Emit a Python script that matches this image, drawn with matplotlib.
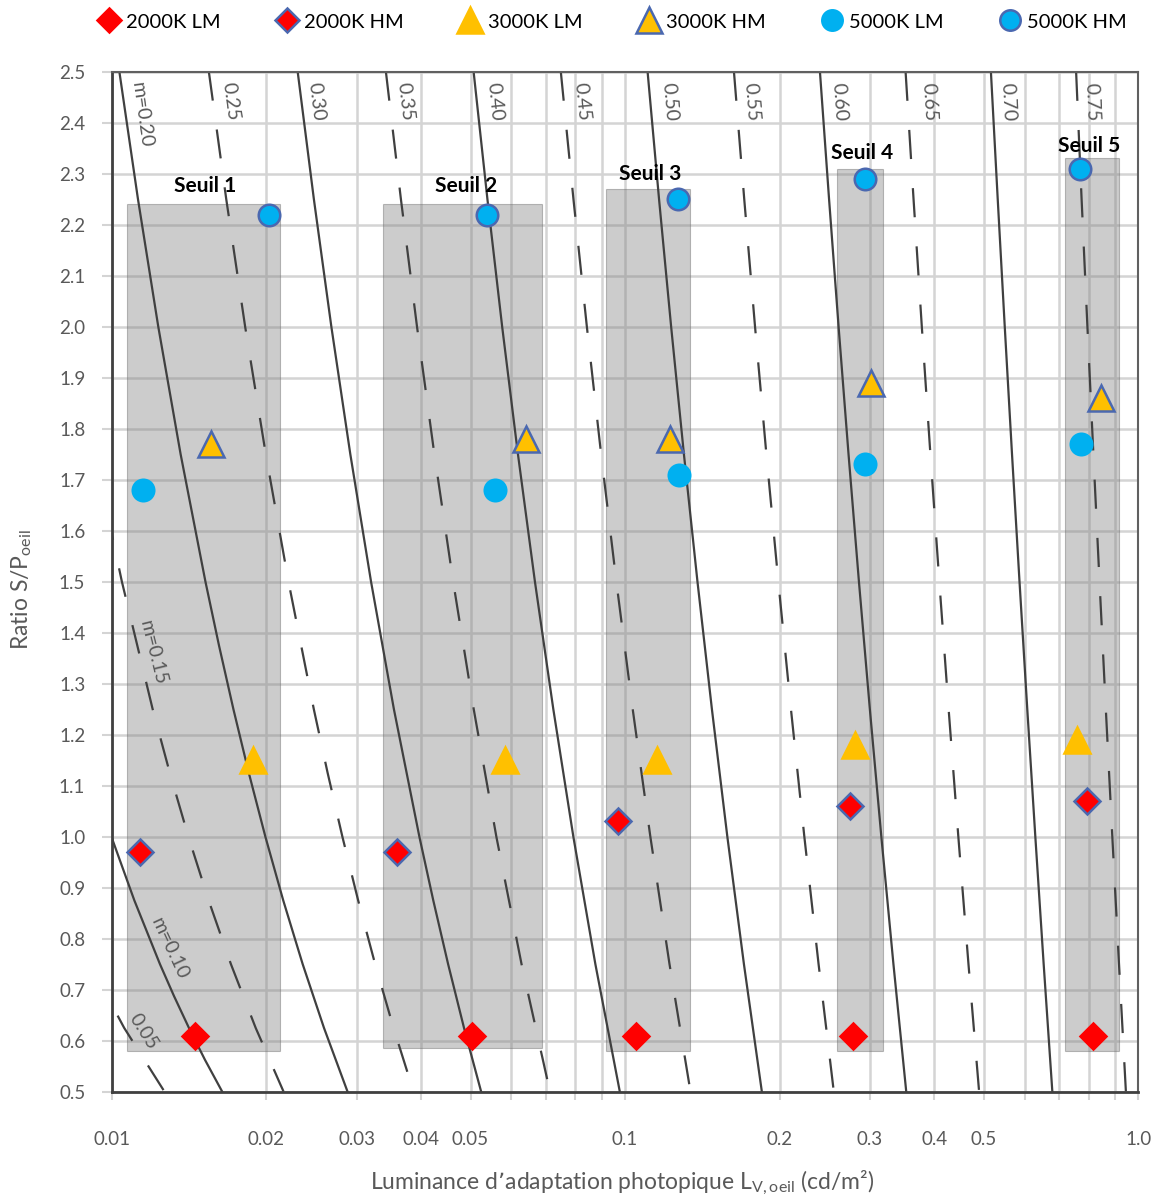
import matplotlib
matplotlib.use("Agg")
import matplotlib.pyplot as plt
from matplotlib.patches import Rectangle
from matplotlib.lines import Line2D
from matplotlib.ticker import FixedLocator, NullFormatter

plt.rcParams["font.family"] = ["Lato", "DejaVu Sans"]
plt.rcParams["mathtext.default"] = "regular"
plt.rcParams["lines.scale_dashes"] = False

# --- thresholds (grey boxes) ---
SEUILS = ["Seuil 1", "Seuil 2", "Seuil 3", "Seuil 4", "Seuil 5"]
BOX_X0 = [0.01072, 0.0338, 0.0917, 0.259, 0.719]
BOX_X1 = [0.02127, 0.0688, 0.1338, 0.318, 0.9175]
BOX_Y0 = [0.58, 0.585, 0.58, 0.58, 0.58]
BOX_Y1 = [2.24, 2.24, 2.27, 2.31, 2.33]
SEUIL_LABEL_X = [0.0152, 0.049, 0.1118, 0.289, 0.802]
SEUIL_LABEL_Y = [2.275, 2.275, 2.30, 2.34, 2.355]

# --- measured points per threshold ---
L2000_LM_X = [0.01453, 0.0504, 0.105, 0.2776, 0.817]
L2000_LM_Y = [0.61, 0.61, 0.61, 0.61, 0.61]
L2000_HM_X = [0.01135, 0.0359, 0.097, 0.274, 0.795]
L2000_HM_Y = [0.97, 0.97, 1.03, 1.06, 1.07]
L3000_LM_X = [0.01883, 0.0583, 0.1152, 0.2804, 0.760]
L3000_LM_Y = [1.15, 1.15, 1.15, 1.18, 1.19]
L3000_HM_X = [0.01559, 0.0641, 0.1223, 0.3009, 0.844]
L3000_HM_Y = [1.77, 1.78, 1.78, 1.89, 1.86]
L5000_LM_X = [0.01152, 0.0558, 0.1275, 0.2933, 0.773]
L5000_LM_Y = [1.68, 1.68, 1.71, 1.73, 1.77]
L5000_HM_X = [0.02028, 0.0539, 0.1266, 0.2933, 0.769]
L5000_HM_Y = [2.22, 2.22, 2.25, 2.29, 2.31]

# --- iso-m curves (x read at S/P levels, top to bottom) ---
SP_LEVELS = [2.5, 2.25, 2.0, 1.75, 1.5, 1.25, 1.0, 0.75, 0.5]
SP_LEVELS_FINE = [2.5, 2.25, 2.0, 1.75, 1.5, 1.375, 1.25, 1.125, 1.0,
                  0.875, 0.75, 0.625, 0.5]
M_VALUES = [0.05, 0.10, 0.15, 0.20, 0.25, 0.30, 0.35, 0.40,
            0.45, 0.50, 0.55, 0.60, 0.65, 0.70, 0.75]
M_CURVE_Y = [
    [0.75, 0.625, 0.5],
    [1.25, 1.0, 0.875, 0.75, 0.6875, 0.625, 0.5625, 0.5],
    [1.75, 1.5, 1.25, 1.125, 1.0, 0.875, 0.75, 0.625, 0.5],
    SP_LEVELS_FINE,
    [2.5, 2.25, 2.0, 1.75, 1.5, 1.25, 1.125, 1.0, 0.875, 0.75, 0.625, 0.5],
    [2.5, 2.25, 2.0, 1.75, 1.5, 1.25, 1.0, 0.875, 0.75, 0.625, 0.5],
] + [SP_LEVELS] * 9
M_CURVE_X = [
    [0.009077, 0.010577, 0.012673],
    [0.008351, 0.009986, 0.011070, 0.012418, 0.013224, 0.014141, 0.015194, 0.016417],
    [0.009272, 0.010468, 0.012017, 0.012978, 0.014105, 0.015447, 0.017071, 0.019076, 0.021616],
    [0.010350, 0.011251, 0.012323, 0.013622, 0.015227, 0.016180, 0.017261, 0.018496,
     0.019922, 0.021585, 0.023552, 0.025913, 0.028800],
    [0.015461, 0.016716, 0.018194, 0.019957, 0.022099, 0.024756, 0.026340, 0.028140,
     0.030204, 0.032594, 0.035396, 0.038725],
    [0.023027, 0.024763, 0.026782, 0.029160, 0.032001, 0.035455, 0.039745, 0.042305,
     0.045217, 0.048558, 0.052435],
    [0.034205, 0.036587, 0.039326, 0.042508, 0.046251, 0.050716, 0.056136, 0.062852, 0.071395],
    [0.050689, 0.053931, 0.057617, 0.061843, 0.066738, 0.072475, 0.079290, 0.087521, 0.097658],
    [0.074952, 0.079323, 0.084239, 0.089802, 0.096153, 0.103469, 0.111992, 0.122044, 0.134079],
    [0.110610, 0.116446, 0.122934, 0.130186, 0.138348, 0.147603, 0.158183, 0.170397, 0.184656],
    [0.162935, 0.170633, 0.179098, 0.188443, 0.198820, 0.210405, 0.223425, 0.238159, 0.254979],
    [0.239609, 0.249624, 0.260512, 0.272394, 0.285411, 0.299735, 0.315573, 0.333178, 0.352863],
    [0.351822, 0.364621, 0.378396, 0.393243, 0.409312, 0.426742, 0.445729, 0.466478, 0.489259],
    [0.515846, 0.531858, 0.548895, 0.567060, 0.586468, 0.607253, 0.629564, 0.653577, 0.679495],
    [0.755905, 0.774772, 0.795250, 0.816826, 0.839615, 0.863699, 0.889222, 0.916284, 0.945058],
]
M_LABELS = ["0.05", "m=0.10", "m=0.15", "m=0.20", "0.25", "0.30", "0.35", "0.40",
            "0.45", "0.50", "0.55", "0.60", "0.65", "0.70", "0.75"]
M_LABEL_X = [0.01152, 0.01299, 0.01202, 0.01144, 0.0170, 0.0250, 0.0373, 0.0558,
             0.0823, 0.1223, 0.1765, 0.2615, 0.3914, 0.5578, 0.8103]
M_LABEL_Y = [0.618, 0.781, 1.36, 2.415] + [2.441] * 11
M_LABEL_ROT = [-58, -65, -76, -82, -82, -83, -83, -84,
               -84, -85, -85.5, -86, -86.5, -87, -87.5]

X_MAJOR = [0.01, 0.02, 0.03, 0.04, 0.05, 0.1, 0.2, 0.3, 0.4, 0.5, 1.0]
X_MAJOR_LABELS = ["0.01", "0.02", "0.03", "0.04", "0.05", "0.1", "0.2",
                  "0.3", "0.4", "0.5", "1.0"]
X_MINOR = [0.06, 0.07, 0.08, 0.09, 0.6, 0.7, 0.8, 0.9]

W, H = 1159, 1198
fig = plt.figure(figsize=(W / 100, H / 100), dpi=100)
ax = fig.add_axes([111.7 / W, 1 - 1091.7 / H, 1026.8 / W, 1020 / H])
ax.set_xscale("log")
ax.set_xlim(0.01, 1.0)
ax.set_ylim(0.5, 2.5)

GRID = "#d4d4d4"
ax.set_axisbelow(True)
ax.xaxis.set_major_locator(FixedLocator(X_MAJOR))
ax.xaxis.set_minor_locator(FixedLocator(X_MINOR))
ax.xaxis.set_minor_formatter(NullFormatter())
ax.set_xticklabels(X_MAJOR_LABELS)
yt = [0.5 + 0.1 * i for i in range(21)]
ax.set_yticks(yt)
ax.set_yticklabels([f"{v:.1f}" for v in yt])
ax.grid(True, which="both", color=GRID, lw=1.8, zorder=0)
ax.tick_params(axis="x", which="both", length=6, width=1.5, color=GRID,
               pad=22, labelsize=13.5, labelcolor="#595959")
ax.tick_params(axis="y", length=7, width=1.5, color=GRID, pad=12,
               labelsize=13.5, labelcolor="#595959")

for side in ("left", "bottom"):
    ax.spines[side].set_color("#404040")
    ax.spines[side].set_linewidth(2)
for side in ("top", "right"):
    ax.spines[side].set_color("#606060")
    ax.spines[side].set_linewidth(1.5)

# grey threshold boxes
for x0, x1, y0, y1 in zip(BOX_X0, BOX_X1, BOX_Y0, BOX_Y1):
    ax.add_patch(Rectangle((x0, y0), x1 - x0, y1 - y0, facecolor="#808080",
                           alpha=0.4, edgecolor="#606060", lw=0.8, zorder=1))

# iso-m curves
for m, xs, ys in zip(M_VALUES, M_CURVE_X, M_CURVE_Y):
    dashed = round(m * 100) % 10 == 5
    ax.plot(xs, ys, color="#404040", lw=1.6,
            ls=(0, (21, 21)) if dashed else "-", zorder=2)

for t, x, y, r in zip(M_LABELS, M_LABEL_X, M_LABEL_Y, M_LABEL_ROT):
    ax.text(x, y, t, rotation=r, rotation_mode="anchor", ha="center",
            va="center", fontsize=14, color="#595959", zorder=3)

for t, x, y in zip(SEUILS, SEUIL_LABEL_X, SEUIL_LABEL_Y):
    ax.text(x, y, t, ha="center", va="center", fontsize=15,
            fontweight="bold", color="black", zorder=5)

RED = "#ff0000"
GOLD = "#ffc000"
CYAN = "#00b0f0"
EDGE = "#4a68b0"
series = [
    ("2000K LM", L2000_LM_X, L2000_LM_Y, "D", 13, RED, RED),
    ("2000K HM", L2000_HM_X, L2000_HM_Y, "D", 13, RED, EDGE),
    ("3000K LM", L3000_LM_X, L3000_LM_Y, "^", 19, GOLD, GOLD),
    ("3000K HM", L3000_HM_X, L3000_HM_Y, "^", 19, GOLD, EDGE),
    ("5000K LM", L5000_LM_X, L5000_LM_Y, "o", 15.5, CYAN, CYAN),
    ("5000K HM", L5000_HM_X, L5000_HM_Y, "o", 15.5, CYAN, EDGE),
]
handles = []
for label, xs, ys, mk, ms, fc, ec in series:
    ax.plot(xs, ys, ls="none", marker=mk, ms=ms, mfc=fc, mec=ec, mew=1.8,
            zorder=6, clip_on=False)
    handles.append(Line2D([], [], ls="none", marker=mk, ms=ms * 0.95, mfc=fc,
                          mec=ec, mew=1.8, label=label))

fig.legend(handles=handles, loc="center", bbox_to_anchor=(0.528, 1 - 22 / H),
           ncol=6, frameon=False, fontsize=14.5, handletextpad=0.25,
           columnspacing=2.7, handlelength=1.2)

fig.text(22 / W, 1 - 590 / H, "Ratio S/P$_{oeil}$", rotation=90, ha="center",
         va="center", fontsize=16.5, color="#595959")
fig.text(622 / W, 1 - 1183 / H,
         "Luminance d\u2019adaptation photopique L$_{V,oeil}$ (cd/m\u00b2)",
         ha="center", va="center", fontsize=16.5, color="#595959")

fig.savefig("out.png", dpi=100)
